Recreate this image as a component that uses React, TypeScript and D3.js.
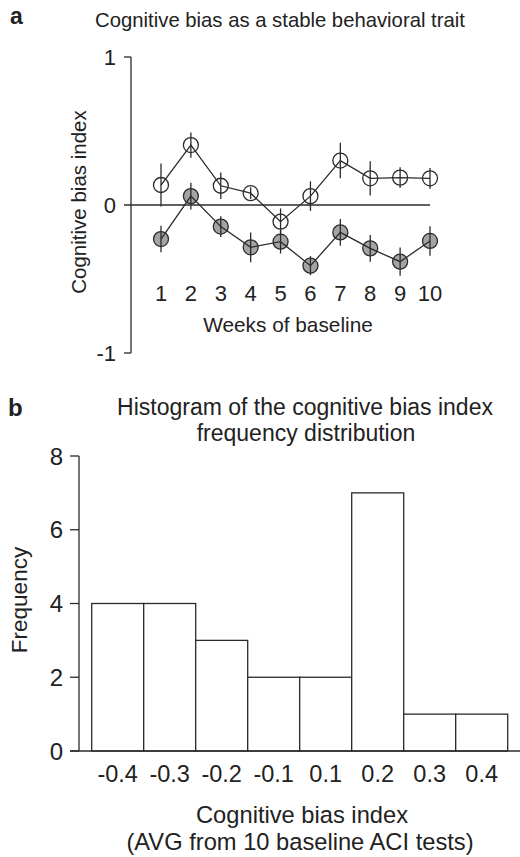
import React from "react";
import * as d3 from "d3";

// Panel a: cognitive bias index per baseline week
const weeks = [1, 2, 3, 4, 5, 6, 7, 8, 9, 10];
const optimisticMean = [0.135, 0.405, 0.13, 0.08, -0.113, 0.06, 0.3, 0.18, 0.185, 0.18];
const optimisticErr = [0.145, 0.085, 0.09, 0.04, 0.09, 0.1, 0.12, 0.115, 0.07, 0.07];
const pessimisticMean = [-0.23, 0.06, -0.146, -0.286, -0.248, -0.41, -0.185, -0.293, -0.383, -0.243];
const pessimisticErr = [0.09, 0.09, 0.07, 0.1, 0.08, 0.065, 0.09, 0.09, 0.095, 0.1];
const indexTicks = [1, 0, -1];

// Panel b: histogram
const binLabels = ["-0.4", "-0.3", "-0.2", "-0.1", "0.1", "0.2", "0.3", "0.4"];
const frequencies = [4, 4, 3, 2, 2, 7, 1, 1];
const freqTicks = [0, 2, 4, 6, 8];

const FONT = "'Liberation Sans', Arial, Helvetica, sans-serif";
const INK = "#2b2b2b";
const GREY = "#a4a4a4";

const App = () => {
  // ---- panel a scales
  const xa = d3.scaleLinear().domain([1, 10]).range([161, 430]);
  const ya = d3.scaleLinear().domain([-1, 1]).range([353, 57]);
  const axisXa = 131;

  const line = d3
    .line<number>()
    .x((_, i) => xa(weeks[i]))
    .y((d) => ya(d));

  const series = [
    { mean: pessimisticMean, err: pessimisticErr, fill: GREY },
    { mean: optimisticMean, err: optimisticErr, fill: "#ffffff" },
  ];

  // ---- panel b scales
  const xb = d3.scaleBand().domain(binLabels).range([91.7, 507.7]).padding(0);
  const yb = d3.scaleLinear().domain([0, 8]).range([751, 456]);
  const axisXb = 79;

  return (
    <svg
      width={520}
      height={857}
      viewBox="0 0 520 857"
      style={{ position: "absolute", left: 0, top: 0, background: "#fff" }}
      fontFamily={FONT}
    >
      {/* ================= panel a ================= */}
      <text x={10} y={24} fontSize={23} fontWeight="bold" fill="#222">a</text>
      <text x={280} y={27} fontSize={20.3} textAnchor="middle" fill="#222">
        Cognitive bias as a stable behavioral trait
      </text>

      <g stroke={INK} strokeWidth={1.3} fill="none">
        <line x1={axisXa} x2={axisXa} y1={ya(1)} y2={ya(-1)} />
        {indexTicks.map((t) => (
          <line key={t} x1={axisXa - 7} x2={t === 0 ? xa(10) : axisXa} y1={ya(t)} y2={ya(t)} />
        ))}
      </g>
      {indexTicks.map((t) => (
        <text key={t} x={116} y={ya(t)} dy="0.36em" fontSize={22} textAnchor="end" fill="#222">
          {t}
        </text>
      ))}
      <text
        transform={`translate(86,202) rotate(-90)`}
        fontSize={20.5}
        textAnchor="middle"
        fill="#222"
      >
        Cognitive bias index
      </text>

      {series.map((s, si) => (
        <g key={si}>
          {s.mean.map((m, i) => (
            <circle key={i} cx={xa(weeks[i])} cy={ya(m)} r={7.5} fill={s.fill} stroke={INK} strokeWidth={1.3} />
          ))}
          <path d={line(s.mean) || ""} fill="none" stroke={INK} strokeWidth={1.3} />
          {s.mean.map((m, i) => (
            <line
              key={i}
              x1={xa(weeks[i])}
              x2={xa(weeks[i])}
              y1={ya(m + s.err[i])}
              y2={ya(m - s.err[i])}
              stroke={INK}
              strokeWidth={1.3}
            />
          ))}
        </g>
      ))}

      {weeks.map((w) => (
        <text key={w} x={xa(w)} y={301} fontSize={22} textAnchor="middle" fill="#222">
          {w}
        </text>
      ))}
      <text x={288} y={332} fontSize={20.8} textAnchor="middle" fill="#222">
        Weeks of baseline
      </text>

      {/* ================= panel b ================= */}
      <text x={8} y={416} fontSize={24} fontWeight="bold" fill="#222">b</text>
      <text x={305} y={415} fontSize={23} textAnchor="middle" fill="#222">
        Histogram of the cognitive bias index
      </text>
      <text x={306} y={441} fontSize={23} textAnchor="middle" fill="#222">
        frequency distribution
      </text>

      <g stroke={INK} strokeWidth={1.3}>
        <line x1={axisXb} x2={axisXb} y1={yb(8)} y2={yb(0)} />
        {freqTicks.map((t) => (
          <line key={t} x1={axisXb - 9} x2={axisXb} y1={yb(t)} y2={yb(t)} />
        ))}
        {binLabels.map((b, i) => (
          <rect
            key={b}
            x={xb(b)!}
            y={yb(frequencies[i])}
            width={xb.bandwidth()}
            height={yb(0) - yb(frequencies[i])}
            fill="#ffffff"
          />
        ))}
        <line x1={axisXb - 9} x2={520} y1={yb(0)} y2={yb(0)} />
      </g>
      {freqTicks.map((t) => (
        <text key={t} x={63} y={yb(t)} dy="0.36em" fontSize={24} textAnchor="end" fill="#222">
          {t}
        </text>
      ))}
      <text transform={`translate(27,600) rotate(-90)`} fontSize={22.5} textAnchor="middle" fill="#222">
        Frequency
      </text>
      {binLabels.map((b) => (
        <text key={b} x={xb(b)! + xb.bandwidth() / 2} y={782} fontSize={23.5} textAnchor="middle" fill="#222">
          {b}
        </text>
      ))}
      <text x={302} y={823} fontSize={23.7} textAnchor="middle" fill="#222">
        Cognitive bias index
      </text>
      <text x={300} y={850} fontSize={23.7} textAnchor="middle" fill="#222">
        (AVG from 10 baseline ACI tests)
      </text>
    </svg>
  );
};

export default App;
